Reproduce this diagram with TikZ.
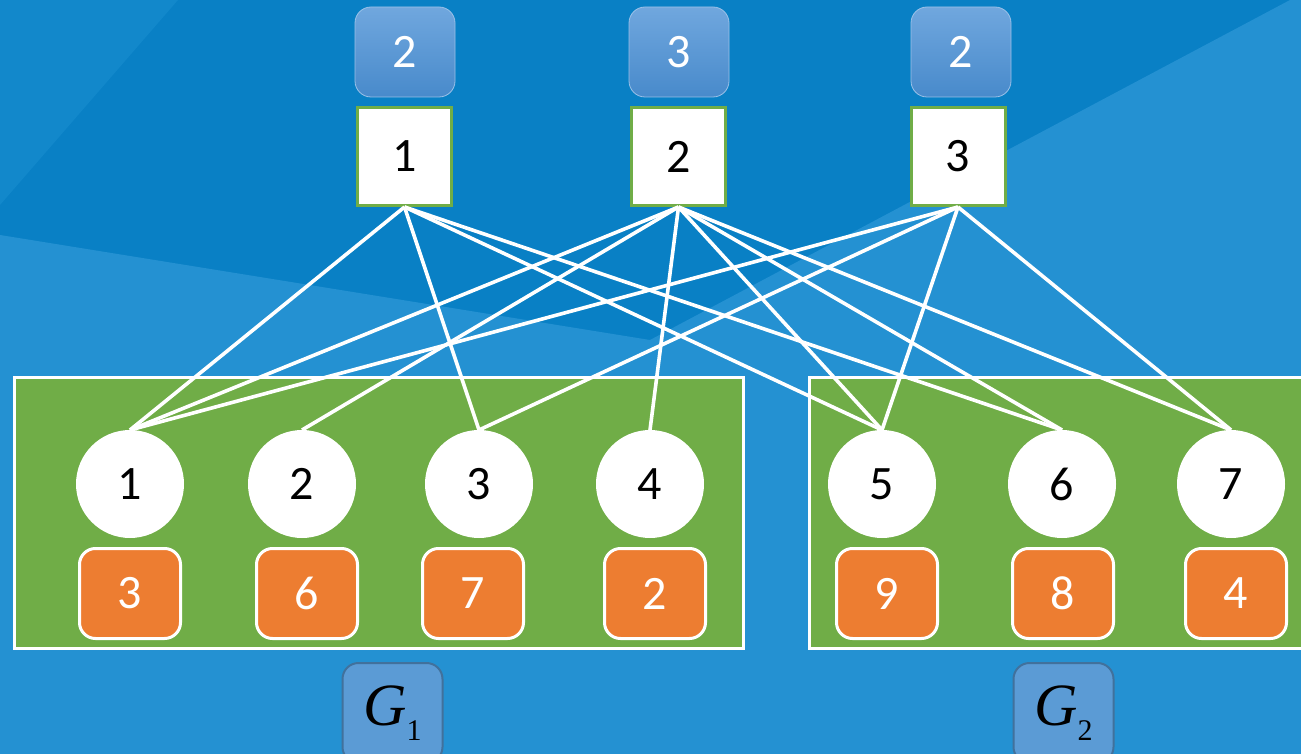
\documentclass[tikz,border=0pt]{standalone}
\usepackage{fontspec}
\setmainfont{Carlito}
\newfontfamily\mathserif{Liberation Serif}
\usepackage{tikz}
\usetikzlibrary{positioning}

\definecolor{bgdark}{RGB}{9,128,197}
\definecolor{bgmid}{RGB}{18,136,203}
\definecolor{bglight}{RGB}{36,145,210}
\definecolor{grpgreen}{HTML}{70AD47}
\definecolor{wtorange}{HTML}{ED7D31}
\definecolor{cnttop}{RGB}{112,167,222}
\definecolor{cntbot}{RGB}{72,138,203}
\definecolor{lblblue}{HTML}{5B9BD5}
\definecolor{lbledge}{HTML}{41719C}

\newcommand{\numfont}{\fontsize{24}{24}\selectfont}

\tikzset{
  cntbox/.style={rounded corners=8pt, minimum width=50pt, minimum height=45pt,
    top color=cnttop, bottom color=cntbot, draw=cnttop!70!white, line width=0.4pt,
    text=white, font=\numfont},
  rowbox/.style={fill=white, draw=grpgreen, line width=1.5pt,
    minimum width=47pt, minimum height=49pt, font=\numfont},
  vtx/.style={circle, fill=white, minimum size=54pt, inner sep=0pt, font=\numfont},
  wtbox/.style={rounded corners=8pt, fill=wtorange, draw=white, line width=1.5pt,
    minimum width=50.5pt, minimum height=45pt, text=white, font=\numfont},
  grp/.style={fill=grpgreen, draw=white, line width=1.6pt},
  glabel/.style={rounded corners=8pt, fill=lblblue, draw=lbledge, line width=1pt,
    minimum width=50pt, minimum height=50pt},
  link/.style={white, line width=1.8pt}
}

\begin{document}
\begin{tikzpicture}[x=0.5pt, y=-0.5pt]
  \clip (0,0) rectangle (1301,754);
  % backdrop
  \fill[bgdark] (0,0) rectangle (1301,754);
  \fill[bgmid] (0,0) -- (178,0) -- (0,205) -- cycle;
  \fill[bglight] (0,235) -- (650,340) -- (1290,0) -- (1301,0) -- (1301,754) -- (0,754) -- cycle;

  % the two groups
  \draw[grp] (14.5,377.5) rectangle (743.5,648.5);
  \draw[grp] (809.5,377.5) rectangle (1330,648.5);

  % rows with their counts
  \node[rowbox] (s1) at (404.5,156.5) {1};
  \node[rowbox] (s2) at (678.5,156.5) {2};
  \node[rowbox] (s3) at (958,156.5) {3};
  \node[cntbox] (n1) at (405,52) {2};
  \node[cntbox] (n2) at (679,52) {3};
  \node[cntbox] (n3) at (961,52) {2};

  % edges between rows and vertices
  \coordinate (v1) at (130,430);  \coordinate (v2) at (302,430);
  \coordinate (v3) at (479,430);  \coordinate (v4) at (650,430);
  \coordinate (v5) at (882,430);  \coordinate (v6) at (1062,430);
  \coordinate (v7) at (1231,430);
  \foreach \a/\b in {s1/v1, s1/v3, s1/v5, s1/v6,
                     s2/v1, s2/v2, s2/v4, s2/v5, s2/v6, s2/v7,
                     s3/v1, s3/v3, s3/v5, s3/v7}
    \draw[link] (\a.south) -- (\b);

  % vertices and their weights
  \foreach \i/\x/\wx/\w in {1/130/130/3, 2/302/307/6, 3/479/473/7, 4/650/655/2,
                            5/882/887/9, 6/1062/1063/8, 7/1231/1236/4} {
    \node[vtx] (c\i) at (\x,484) {\i};
    \node[wtbox] (w\i) at (\wx,593.5) {\w};
  }

  % group labels
  \node[glabel] (g1) at (392.5,713)
    {\mathserif\fontsize{30}{30}\selectfont\itshape G\upshape\fontsize{15}{15}\selectfont\raisebox{-7.5pt}{1}};
  \node[glabel] (g2) at (1063.5,713)
    {\mathserif\fontsize{30}{30}\selectfont\itshape G\upshape\fontsize{15}{15}\selectfont\raisebox{-7.5pt}{2}};
\end{tikzpicture}
\end{document}
